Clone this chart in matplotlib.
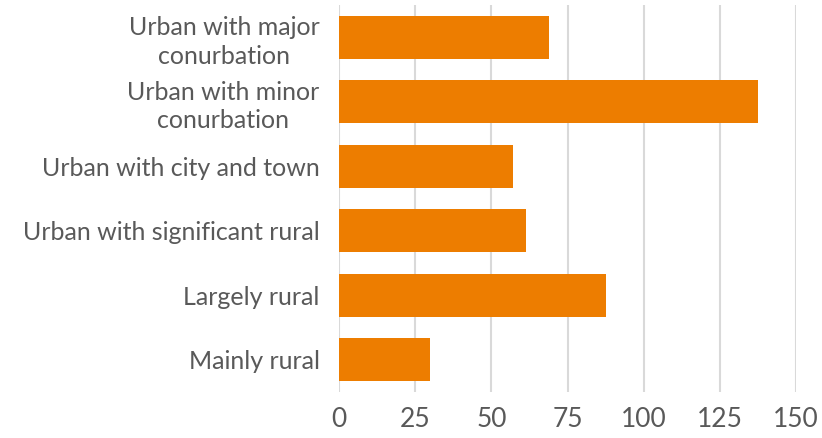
import matplotlib.pyplot as plt

categories = ["Urban with major\nconurbation", "Urban with minor\nconurbation",
              "Urban with city and town", "Urban with significant rural",
              "Largely rural", "Mainly rural"]
values = [69, 137.5, 57, 61.5, 87.5, 30]
xticks = [0, 25, 50, 75, 100, 125, 150]

plt.rcParams['font.family'] = ['Lato', 'DejaVu Sans']

fig = plt.figure(figsize=(8.22, 4.38), dpi=100)
ax = fig.add_axes([339/822, 1 - 392/438, (796-339)/822, 387/438])

ax.barh(range(len(categories)), values, height=0.67, color="#ED7D00", zorder=3)
ax.set_ylim(5.5, -0.5)
ax.set_xlim(0, 150)
ax.set_xticks(xticks)
ax.set_yticks(range(len(categories)))
ax.set_yticklabels(categories, fontsize=18, color="#595959", linespacing=1.3)
ax.tick_params(axis='x', labelsize=19, labelcolor="#595959", length=0, pad=11)
ax.tick_params(axis='y', length=0, pad=14)
ax.grid(axis='x', color="#D9D9D9", linewidth=1.5, zorder=0)
for s in ax.spines.values():
    s.set_visible(False)
for lbl in ax.get_yticklabels():
    lbl.set_horizontalalignment('right')
    lbl.set_multialignment('center')

fig.savefig("out.png", dpi=100)
